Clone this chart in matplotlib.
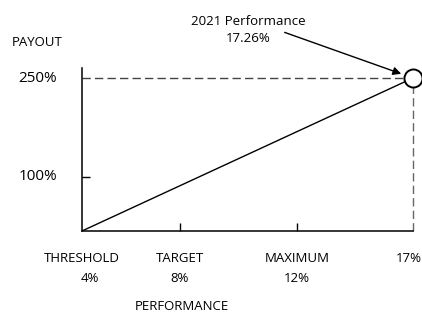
import numpy as np
import matplotlib.pyplot as plt

plt.rcParams['font.family'] = ['Open Sans', 'DejaVu Sans']

# data
perf_names = ["THRESHOLD", "TARGET", "MAXIMUM", ""]
perf_pcts = ["4%", "8%", "12%", "17%"]
perf_values = [4, 8, 12, 17.26]
payout_ticks = [100, 250]
actual_perf = 17.26
actual_payout = 250
threshold_payout = 0

# piecewise scales so the spacing follows the original drawing
x_nodes = [0, 98 / 331, 215 / 331, 1.0]
y_vals = [0, 100, 250, 266]
y_nodes = [0, 54 / 163, 153 / 163, 1.0]

def xf(x):
    return np.interp(x, perf_values, x_nodes)

def xi(p):
    return np.interp(p, x_nodes, perf_values)

def yf(y):
    return np.interp(y, y_vals, y_nodes)

def yi(p):
    return np.interp(p, y_nodes, y_vals)

fig = plt.figure(figsize=(4.22, 3.16), dpi=100)
ax = fig.add_axes([82 / 422, 85 / 316, 331 / 422, 163 / 316])
ax.set_xscale('function', functions=(xf, xi))
ax.set_yscale('function', functions=(yf, yi))
ax.set_xlim(perf_values[0], perf_values[-1])
ax.set_ylim(0, 266)

for s in ['top', 'right']:
    ax.spines[s].set_visible(False)
for s in ['left', 'bottom']:
    ax.spines[s].set_linewidth(1.1)

ax.set_xticks([8, 12])
ax.set_xticklabels([])
ax.set_yticks([100])
ax.set_yticklabels([])
ax.minorticks_off()
ax.tick_params(direction='in', length=6, width=1)

# payout line threshold -> actual
ax.plot([perf_values[0], actual_perf], [threshold_payout, actual_payout],
        color='black', lw=1, zorder=3)
# dashed guides
ax.plot([perf_values[0], actual_perf], [actual_payout, actual_payout],
        color='#444444', lw=1, ls=(0, (6, 3)), zorder=2, clip_on=False)
ax.plot([actual_perf, actual_perf], [0, actual_payout],
        color='#666666', lw=1, ls=(0, (6, 3)), zorder=2, clip_on=False)
ax.plot([actual_perf], [actual_payout], 'o', ms=13, mfc='white', mec='black',
        mew=1.4, zorder=5, clip_on=False)

# labels under the axis: name line, then percent line
name_dx = [0, 0, 0, 0]
pct_dx = [5.5, 0, 0, -3]
for v, name, pct, ndx, pdx in zip(perf_values, perf_names, perf_pcts, name_dx, pct_dx):
    if name:
        ax.annotate(name, xy=(v, 0), xytext=(ndx, -20), textcoords='offset points',
                    ha='center', va='center', fontsize=9.5, annotation_clip=False)
        ax.annotate(pct, xy=(v, 0), xytext=(pdx, -34), textcoords='offset points',
                    ha='center', va='center', fontsize=9.5, annotation_clip=False)
    else:
        ax.annotate(pct, xy=(v, 0), xytext=(pdx, -20), textcoords='offset points',
                    ha='center', va='center', fontsize=9.5, annotation_clip=False)
for v in payout_ticks:
    ax.annotate(f"{v}%", xy=(perf_values[0], v), xytext=(-32, 0),
                textcoords='offset points', ha='center', va='center',
                fontsize=11, annotation_clip=False)

fig.text(37 / 422, 1 - 43 / 316, "PAYOUT", ha='center', va='center', fontsize=9.5)
fig.text(182 / 422, 1 - 307 / 316, "PERFORMANCE", ha='center', va='center', fontsize=9.5)

ax.annotate("2021 Performance\n17.26%", xy=(actual_perf, actual_payout),
            xytext=(248 / 422, 1 - 30 / 316), textcoords='figure fraction',
            ha='center', va='center', fontsize=9.5, linespacing=1.4,
            annotation_clip=False,
            arrowprops=dict(arrowstyle='-|>', color='black', lw=1,
                            shrinkA=0, shrinkB=9, mutation_scale=12,
                            patchA=None, relpos=(0.82, 0.42)))

fig.savefig("out.png", dpi=100)
